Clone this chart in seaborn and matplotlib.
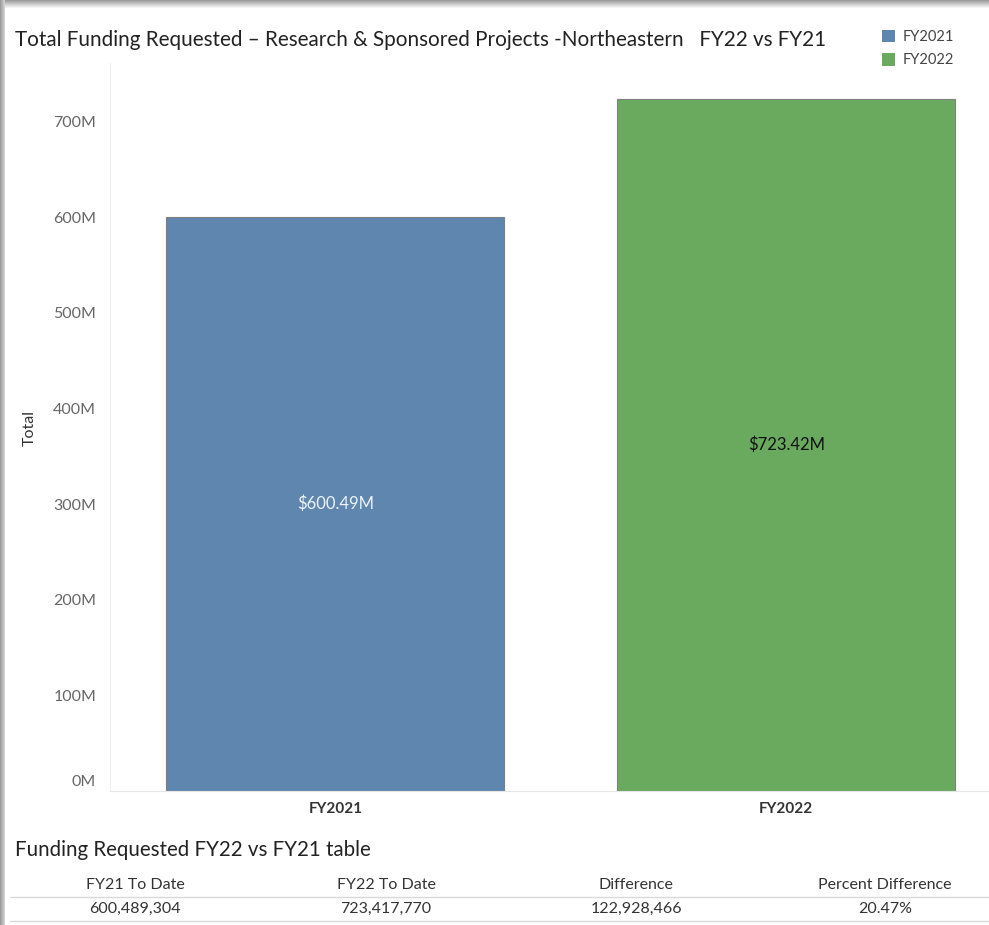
import matplotlib
matplotlib.use("Agg")
import matplotlib.pyplot as plt
import seaborn as sns
import pandas as pd
from matplotlib.patches import Rectangle, Patch
from matplotlib.lines import Line2D
import matplotlib.transforms as mtransforms

# ---------------- data ----------------
years = ["FY2021", "FY2022"]
totals = [600489304, 723417770]
bar_labels = ["$600.49M", "$723.42M"]
bar_colors = ["#5F86AF", "#69AA5E"]
bar_label_colors = ["#EEF2F7", "#111111"]
ytick_values_m = [0, 100, 200, 300, 400, 500, 600, 700]
ytick_labels = ["0M", "100M", "200M", "300M", "400M", "500M", "600M", "700M"]
title = "Total Funding Requested \u2013 Research & Sponsored Projects -Northeastern   FY22 vs FY21"
table_title = "Funding Requested FY22 vs FY21 table"
table_headers = ["FY21 To Date", "FY22 To Date", "Difference", "Percent Difference"]
table_values = ["600,489,304", "723,417,770", "122,928,466", "20.47%"]

# ---------------- style ----------------
sns.set_theme(style="white")
plt.rcParams['font.family'] = ['Lato', 'DejaVu Sans']

W, H = 989, 925
fig = plt.figure(figsize=(W / 100, H / 100), dpi=100)
fig.patch.set_facecolor("white")

def fx(px):
    return px / W

def fy(py):
    return 1 - py / H

# frame shadow (top and left)
shades = ["#9c9c9c", "#a9a9a9", "#b6b6b6", "#c3c3c3", "#d0d0d0", "#dcdcdc", "#e8e8e8", "#f3f3f3"]
for i, c in enumerate(shades):
    fig.patches.append(Rectangle((0, fy(i + 1)), 1, 1 / H, transform=fig.transFigure,
                                 facecolor=c, edgecolor="none", zorder=0))
for i, c in enumerate(shades[:5]):
    fig.patches.append(Rectangle((fx(i), 0), 1 / W, 1, transform=fig.transFigure,
                                 facecolor=c, edgecolor="none", zorder=0))

# ---------------- axes ----------------
ax = fig.add_axes([fx(110), fy(791), fx(989 - 110), (791 - 63) / H])
df = pd.DataFrame({"year": years, "total": totals})
sns.barplot(data=df, x="year", y="total", hue="year", palette=bar_colors,
            width=0.75, saturation=1, edgecolor="#7f7f7f", linewidth=0.8,
            legend=False, ax=ax)

ax.set_ylim(0, 761e6)
ax.set_xlim(-0.5, 1.45)
ax.set_yticks([v * 1e6 for v in ytick_values_m])
ax.set_yticklabels(ytick_labels)
ax.tick_params(axis="y", labelsize=11.5, labelcolor="#666666", length=4, color="#e2e2e2", width=0.8, pad=6)
ax.tick_params(axis="x", labelsize=11, labelcolor="#333333", length=0, pad=8)
for lbl in ax.get_xticklabels():
    lbl.set_fontweight("bold")
# shift 0M label up as in reference
zero_lbl = ax.get_yticklabels()[0]
zero_lbl.set_transform(zero_lbl.get_transform() + mtransforms.ScaledTranslation(0, 10 / 100, fig.dpi_scale_trans))

ax.set_xlabel("")
ax.set_ylabel("")
for s in ["top", "right"]:
    ax.spines[s].set_visible(False)
ax.spines["left"].set_color("#efefef")
ax.spines["left"].set_linewidth(0.8)
ax.spines["bottom"].set_color("#e6e6e6")
ax.spines["bottom"].set_linewidth(0.8)
ax.grid(False)

for i, (v, lab, col) in enumerate(zip(totals, bar_labels, bar_label_colors)):
    ax.text(i, v / 2, lab, ha="center", va="center", fontsize=12, color=col)

fig.text(fx(30), fy(428), "Total", rotation=90, ha="center", va="center", fontsize=11.5, color="#333333")

# ---------------- title & legend ----------------
fig.text(fx(15), fy(40), title, ha="left", va="center", fontsize=14.9, color="#222222")

handles = [Patch(facecolor=c, edgecolor="none") for c in bar_colors]
fig.legend(handles, years, loc="upper left", bbox_to_anchor=(fx(876), fy(24)),
           frameon=False, fontsize=10.5, handlelength=0.9, handleheight=0.9,
           handletextpad=0.5, labelspacing=0.65, labelcolor="#444444", borderaxespad=0)

# ---------------- table ----------------
fig.text(fx(15), fy(850), table_title, ha="left", va="center", fontsize=14.8, color="#222222")
col_centers = [135, 386, 636, 885]
for cx, h, v in zip(col_centers, table_headers, table_values):
    fig.text(fx(cx), fy(885), h, ha="center", va="center", fontsize=11.5, color="#333333")
    fig.text(fx(cx), fy(909), v, ha="center", va="center", fontsize=11.5, color="#333333")
for ly in [897, 921]:
    fig.lines.append(Line2D([fx(10), 1], [fy(ly), fy(ly)], transform=fig.transFigure,
                            color="#d9d9d9", linewidth=1))

fig.savefig("out.png", dpi=100)
